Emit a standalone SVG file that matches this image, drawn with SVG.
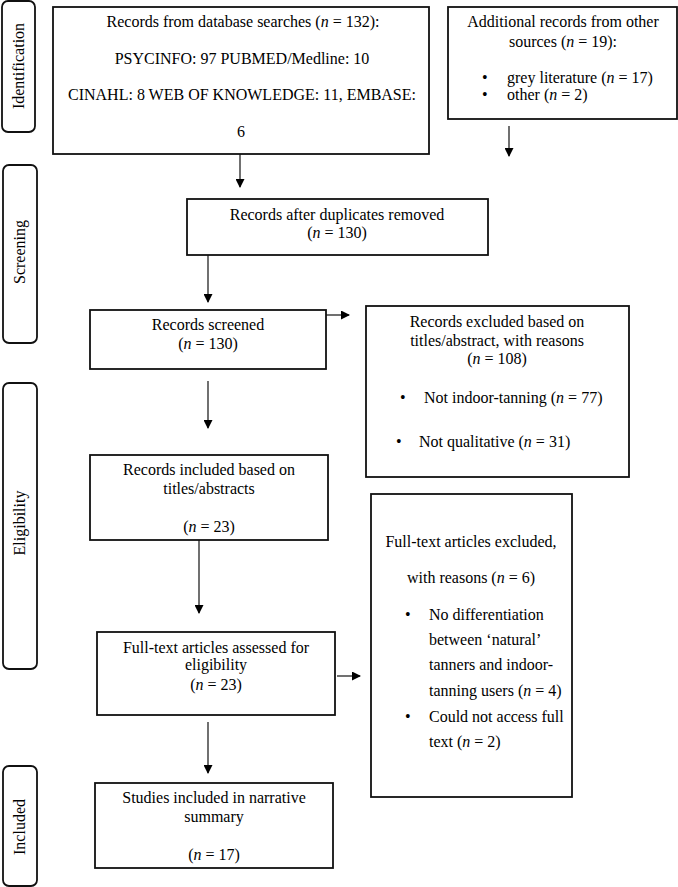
<svg xmlns="http://www.w3.org/2000/svg" width="678" height="887" viewBox="0 0 678 887">
<defs>
<marker id="ah" markerWidth="9" markerHeight="9" refX="8" refY="4.5" orient="auto" markerUnits="userSpaceOnUse">
<path d="M0,0 L9,4.5 L0,9 Z" fill="#000"/>
</marker>
</defs>
<style>
.box{fill:#fff;stroke:#111;stroke-width:1.8}
.side{fill:#fff;stroke:#111;stroke-width:1.8}
.t{font-family:"Liberation Serif","Times New Roman",serif;font-size:16px;fill:#000}
.c{text-anchor:middle}
.conn{stroke:#111;stroke-width:1.2;fill:none;marker-end:url(#ah)}
</style>
<rect width="678" height="887" fill="#fff"/>
<g id="side-identification"><rect class="side" x="2" y="1" width="33" height="131" rx="6"/><text class="t c" transform="translate(24,66) rotate(-90)">Identification</text></g>
<g id="side-screening"><rect class="side" x="3" y="165" width="34" height="178" rx="6"/><text class="t c" transform="translate(25,252) rotate(-90)">Screening</text></g>
<g id="side-eligibility"><rect class="side" x="3" y="383" width="34" height="286" rx="6"/><text class="t c" transform="translate(25,523) rotate(-90)">Eligibility</text></g>
<g id="side-included"><rect class="side" x="3" y="766" width="34" height="120" rx="6"/><text class="t c" transform="translate(25,827) rotate(-90)">Included</text></g>

<g id="n1"><rect class="box" x="53" y="7" width="376" height="147"/>
<text class="t c" x="243" y="27">Records from database searches (<tspan font-style="italic">n</tspan> = 132):</text>
<text class="t c" x="242" y="64">PSYCINFO: 97 PUBMED/Medline: 10</text>
<text class="t c" x="242" y="100">CINAHL: 8 WEB OF KNOWLEDGE: 11, EMBASE:</text>
<text class="t c" x="241" y="137">6</text></g>

<g id="n2"><rect class="box" x="448" y="7" width="229" height="112"/>
<text class="t c" x="563" y="27">Additional records from other</text>
<text class="t c" x="563" y="47">sources (<tspan font-style="italic">n</tspan> = 19):</text>
<text class="t" x="482" y="83">•</text><text class="t" x="507" y="83">grey literature (<tspan font-style="italic">n</tspan> = 17)</text>
<text class="t" x="482" y="100">•</text><text class="t" x="507" y="100">other (<tspan font-style="italic">n</tspan> = 2)</text></g>

<g id="n3"><rect class="box" x="187" y="199" width="301" height="56"/>
<text class="t c" x="337" y="220">Records after duplicates removed</text>
<text class="t c" x="337" y="238">(<tspan font-style="italic">n</tspan> = 130)</text></g>

<g id="n4"><rect class="box" x="90" y="310" width="236" height="59"/>
<text class="t c" x="208" y="330">Records screened</text>
<text class="t c" x="208" y="349">(<tspan font-style="italic">n</tspan> = 130)</text></g>

<g id="n5"><rect class="box" x="366" y="306" width="263" height="171"/>
<text class="t c" x="497" y="327">Records excluded based on</text>
<text class="t c" x="497" y="346">titles/abstract, with reasons</text>
<text class="t c" x="497" y="364">(<tspan font-style="italic">n</tspan> = 108)</text>
<text class="t" x="400" y="403">•</text><text class="t" x="424" y="403">Not indoor-tanning (<tspan font-style="italic">n</tspan> = 77)</text>
<text class="t" x="396" y="447">•</text><text class="t" x="419" y="447">Not qualitative (<tspan font-style="italic">n</tspan> = 31)</text></g>

<g id="n6"><rect class="box" x="90" y="455" width="238" height="85"/>
<text class="t c" x="209" y="475">Records included based on</text>
<text class="t c" x="209" y="494">titles/abstracts</text>
<text class="t c" x="209" y="532">(<tspan font-style="italic">n</tspan> = 23)</text></g>

<g id="n7"><rect class="box" x="97" y="632" width="238" height="83"/>
<text class="t c" x="216" y="653">Full-text articles assessed for</text>
<text class="t c" x="216" y="670">eligibility</text>
<text class="t c" x="216" y="690">(<tspan font-style="italic">n</tspan> = 23)</text></g>

<g id="n8"><rect class="box" x="371" y="494" width="201" height="303"/>
<text class="t c" x="471" y="547">Full-text articles excluded,</text>
<text class="t c" x="471" y="583">with reasons (<tspan font-style="italic">n</tspan> = 6)</text>
<text class="t" x="405" y="620">•</text><text class="t" x="429" y="620">No differentiation</text>
<text class="t" x="429" y="645">between ‘natural’</text>
<text class="t" x="429" y="670">tanners and indoor-</text>
<text class="t" x="429" y="696">tanning users (<tspan font-style="italic">n</tspan> = 4)</text>
<text class="t" x="405" y="722">•</text><text class="t" x="429" y="722">Could not access full</text>
<text class="t" x="429" y="747">text (<tspan font-style="italic">n</tspan> = 2)</text></g>

<g id="n9"><rect class="box" x="95" y="783" width="238" height="85"/>
<text class="t c" x="214" y="803">Studies included in narrative</text>
<text class="t c" x="214" y="822">summary</text>
<text class="t c" x="214" y="860">(<tspan font-style="italic">n</tspan> = 17)</text></g>

<g id="connectors">
<line class="conn" x1="240" y1="154" x2="240" y2="187"/>
<line class="conn" x1="509" y1="126" x2="509" y2="156"/>
<line class="conn" x1="208" y1="255" x2="208" y2="302"/>
<line class="conn" x1="326" y1="315" x2="349" y2="315"/>
<line class="conn" x1="208" y1="381" x2="208" y2="428"/>
<line class="conn" x1="199" y1="540" x2="199" y2="613"/>
<line class="conn" x1="337" y1="676" x2="360" y2="676"/>
<line class="conn" x1="208" y1="722" x2="208" y2="773"/>
</g>
</svg>
